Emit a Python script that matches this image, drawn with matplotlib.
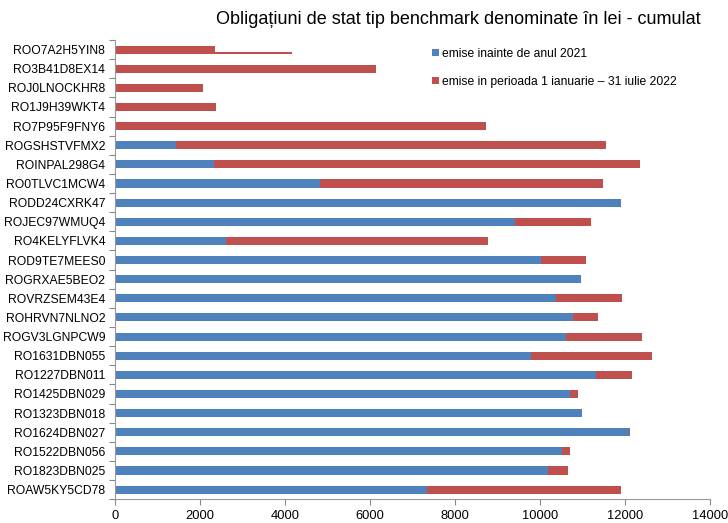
import numpy as np
import matplotlib.pyplot as plt

plt.rcParams['font.family'] = ['Liberation Sans', 'DejaVu Sans']

# categories, top to bottom
bonds = ["ROO7A2H5YIN8", "RO3B41D8EX14", "ROJ0LNOCKHR8", "RO1J9H39WKT4", "RO7P95F9FNY6",
         "ROGSHSTVFMX2", "ROINPAL298G4", "RO0TLVC1MCW4", "RODD24CXRK47", "ROJEC97WMUQ4",
         "RO4KELYFLVK4", "ROD9TE7MEES0", "ROGRXAE5BEO2", "ROVRZSEM43E4", "ROHRVN7NLNO2",
         "ROGV3LGNPCW9", "RO1631DBN055", "RO1227DBN011", "RO1425DBN029", "RO1323DBN018",
         "RO1624DBN027", "RO1522DBN056", "RO1823DBN025", "ROAW5KY5CD78"]

# emise inainte de anul 2021
before_2021 = [0, 0, 0, 0, 0,
               1430, 2330, 4830, 11900, 9410,
               2620, 10030, 10970, 10390, 10780,
               10620, 9780, 11310, 10700, 10990,
               12110, 10520, 10190, 7340]

# cumulative total (before + 2022 issues)
total = [2350, 6140, 2070, 2370, 8730,
         11560, 12360, 11490, 11900, 11200,
         8770, 11080, 10970, 11930, 11360,
         12400, 12650, 12160, 10900, 10990,
         12100, 10710, 10670, 11920]

# odd thin extension drawn on the first bar
thin_start = [2350]
thin_end = [4160]

issued_2022 = [t - b for t, b in zip(total, before_2021)]

blue = "#4F81BD"
red = "#C0504D"

fig = plt.figure(figsize=(7.28, 5.23), dpi=100)
ax = fig.add_axes([0.158, 0.0455, 0.817, 0.878])

y = np.arange(len(bonds))
h = 0.42
ax.barh(y, before_2021, height=h, color=blue, label="emise inainte de anul 2021")
ax.barh(y, issued_2022, left=before_2021, height=h, color=red,
        label="emise in perioada 1 ianuarie – 31 iulie 2022")
ax.barh([0.165], [e - s for s, e in zip(thin_start, thin_end)], left=thin_start,
        height=0.11, color=red)

ax.set_xlim(0, 14000)
ax.set_ylim(len(bonds) - 0.5, -0.5)
ax.set_xticks(np.arange(0, 14001, 2000))
ax.set_yticks(y)
ax.set_yticklabels(bonds, fontsize=8.7)
ax.set_yticks(np.arange(-0.5, len(bonds), 1), minor=True)
ax.tick_params(axis='y', which='major', length=0, pad=7)
ax.tick_params(axis='y', which='minor', length=4, color="#888888", width=0.8)
ax.tick_params(axis='x', length=4, color="#888888", width=0.8, labelsize=9.3)

for s in ["top", "right"]:
    ax.spines[s].set_visible(False)
for s in ["left", "bottom"]:
    ax.spines[s].set_color("#999999")
    ax.spines[s].set_linewidth(0.8)

fig.text(0.63, 0.962, "Obligațiuni de stat tip benchmark denominate în lei - cumulat",
         ha="center", va="center", fontsize=13)

ax.legend(loc="upper left", bbox_to_anchor=(0.587, 0.918), bbox_transform=fig.transFigure,
          frameon=False, fontsize=8.7, handlelength=0.55, handleheight=0.55,
          handletextpad=0.3, labelspacing=1.35, borderaxespad=0)

fig.savefig("out.png", dpi=100)
